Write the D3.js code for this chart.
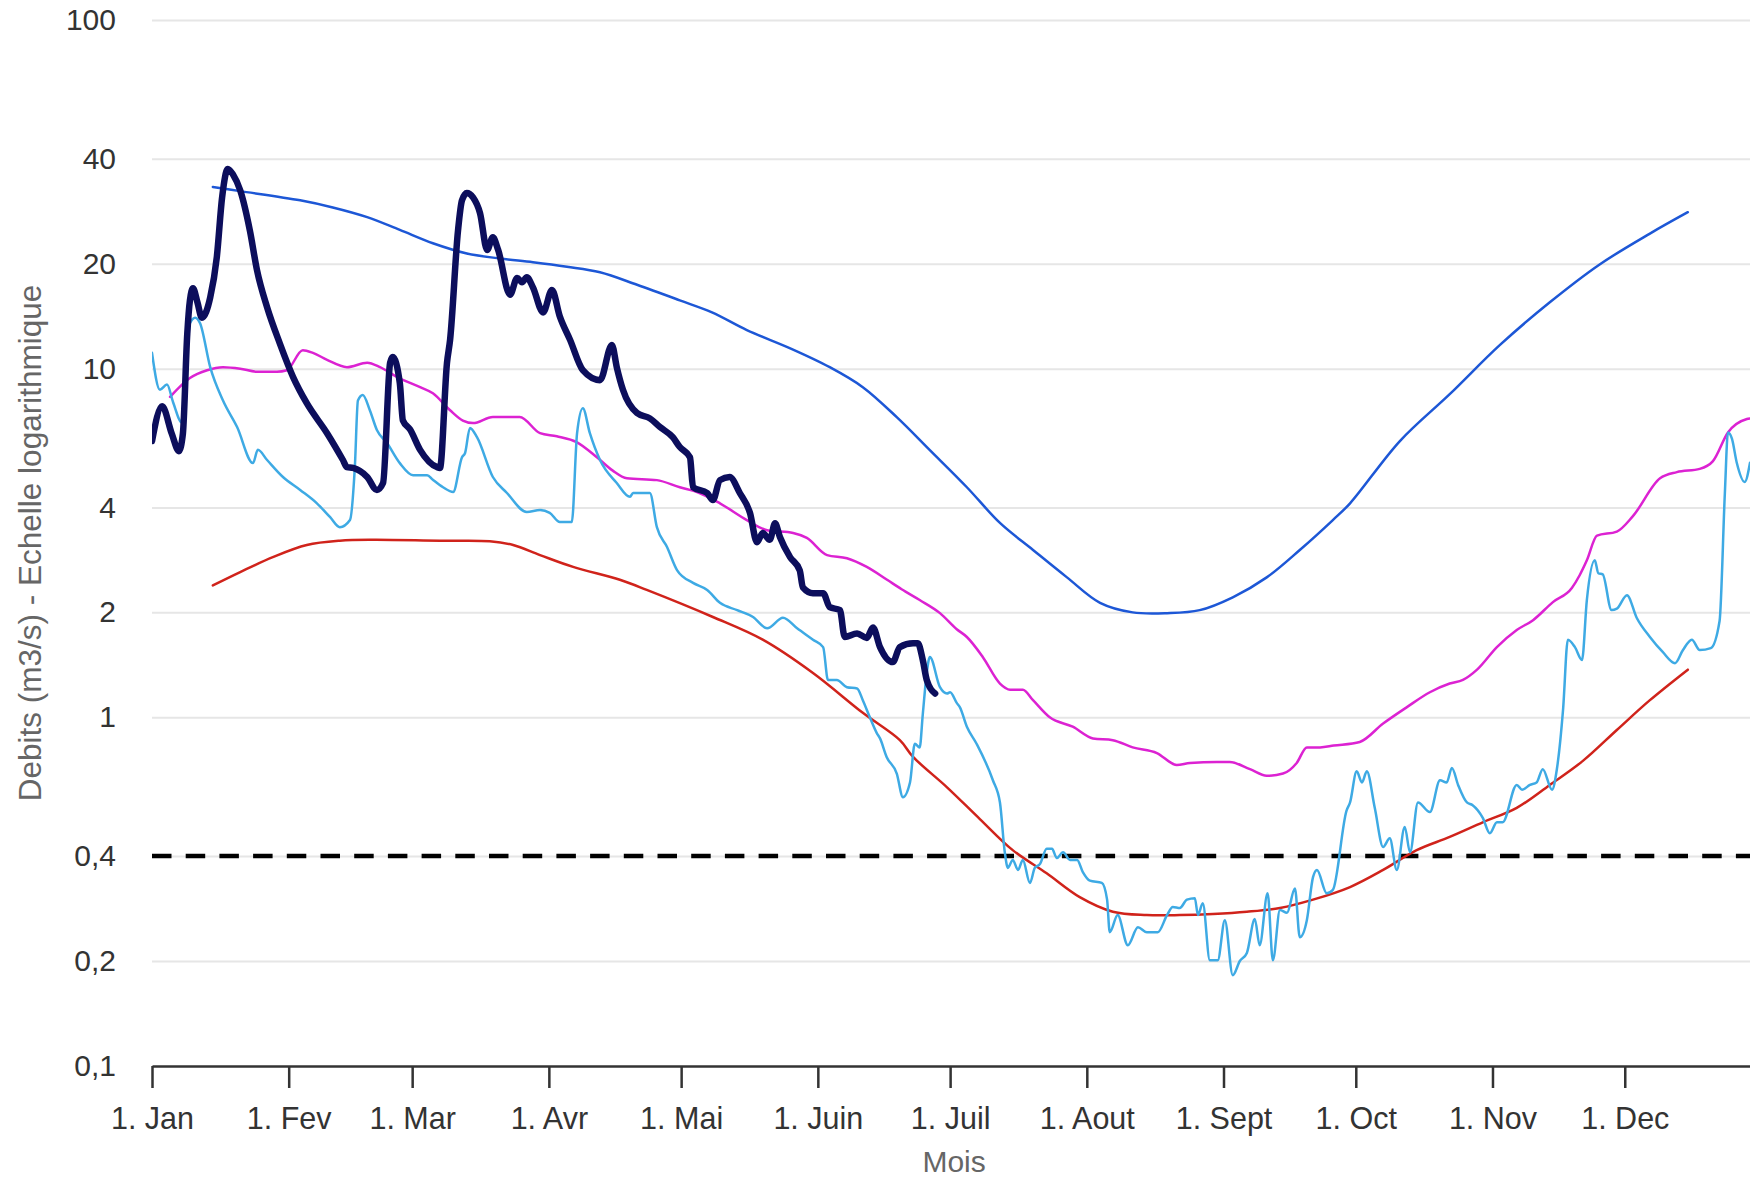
<!DOCTYPE html>
<html>
<head>
<meta charset="utf-8">
<script src="https://cdn.jsdelivr.net/npm/d3@7"></script>
<style>
  body { margin: 0; background: #fff; }
  text { font-family: "Liberation Sans", Arial, sans-serif; }
</style>
</head>
<body>
<svg id="chart"></svg>
<script>
// jour de l'annee (0 = 1. Jan) et debit en m3/s
var monthDays = [0, 31, 59, 90, 120, 151, 181, 212, 243, 273, 304, 334];
var monthLabels = ["1. Jan", "1. Fev", "1. Mar", "1. Avr", "1. Mai", "1. Juin",
                   "1. Juil", "1. Aout", "1. Sept", "1. Oct", "1. Nov", "1. Dec"];
var yTicks = [0.1, 0.2, 0.4, 1, 2, 4, 10, 20, 40, 100];
var seuil = 0.4;

var anneeCourante = [[0,6.2],[2.3,7.8],[4.5,6.5],[6.1,5.8],[7,6.5],[8,12.6],[8.6,15.7],[9.3,17.0],[10.3,15.5],[11.3,14.0],
  [13.2,16.0],[14.7,20.9],[15.9,31],[17.2,37.4],[18.4,36],[20,32.5],[22.2,24.9],[23.8,19.2],[26.1,15.0],[29,11.8],
  [32,9.46],[35.1,7.96],[39.7,6.53],[43.3,5.47],[44.2,5.22],[45.6,5.19],[48.8,4.89],[51,4.49],[52.4,4.7],[54,10.4],
  [54.6,10.8],[56.2,9.1],[56.9,7.1],[58.5,6.7],[60.8,5.85],[64.6,5.22],[65.3,5.19],[66.9,10.4],[67.6,12.1],[69.4,24.9],
  [70.3,30.4],[71.4,31.9],[72.8,31],[74.4,27.9],[76,21.9],[77.3,23.8],[78.5,21.9],[81.2,16.3],[82.8,18.2],[83.9,17.7],
  [85,18.3],[86.4,17.1],[88.7,14.5],[90.7,16.8],[92.5,14.1],[94.8,12.1],[97.7,9.9],[101.6,9.27],[104.3,11.7],[105.4,10.1],
  [106.8,8.7],[110,7.46],[112.9,7.2],[115.2,6.8],[118.1,6.36],[119.7,5.96],[122,5.57],[122.7,4.57],[125.9,4.4],[127.2,4.2],
  [128.8,4.79],[131,4.89],[133.3,4.4],[135.6,3.86],[137.2,3.18],[138.5,3.38],[140.1,3.23],[141.3,3.6],[142.4,3.29],[144.7,2.88],
  [146.9,2.64],[147.6,2.36],[149.9,2.27],[152.2,2.27],[153.7,2.07],[156,2.03],[157.1,1.70],[159.9,1.74],[162.1,1.69],[163.5,1.81],
  [165.1,1.59],[168,1.44],[169.6,1.59],[172.6,1.63],[173.7,1.63],[174.8,1.46],[175.7,1.28],[177.6,1.17]];

var anneeRef = [[0,11.1],[1.8,8.7],[3.4,9.0],[4.8,8.0],[6.8,7.0],[7.5,9.1],[8.6,13.5],[9.8,14.0],[10.9,13.5],[13.2,10.1],
  [16.1,8.1],[19.3,6.8],[22.9,5.36],[24,5.85],[26.1,5.47],[29.7,4.89],[33.6,4.49],[37.4,4.11],[40.4,3.75],[42.6,3.51],
  [44.9,3.68],[46,5.22],[46.7,8.1],[47.8,8.4],[49.4,7.6],[51,6.67],[53.3,6.12],[56.2,5.36],[59.2,4.95],[62.4,4.95],
  [63.7,4.8],[66,4.57],[68.3,4.43],[70.3,5.57],[71,5.73],[72.1,6.76],[73.7,6.36],[77.3,4.89],[80.5,4.4],[85,3.88],
  [88,3.93],[90.2,3.86],[92.5,3.63],[95.2,3.63],[96.4,6.53],[97.7,7.7],[99.3,6.53],[101.6,5.47],[105.4,4.7],[108.4,4.29],
  [109.1,4.4],[112.9,4.4],[114.5,3.51],[116.8,3.08],[119.1,2.64],[122.7,2.43],[125.9,2.32],[128.8,2.13],[132.7,2.03],[136.3,1.94],
  [139.5,1.80],[143.1,1.93],[146.3,1.80],[149.9,1.67],[152.2,1.59],[153.3,1.28],[155.3,1.28],[157.6,1.22],[159.9,1.21],[161.2,1.12],
  [162.8,1.0],[164.4,0.90],[165.1,0.87],[166.6,0.77],[168.9,0.69],[170.3,0.59],[171.9,0.65],[173,0.84],[174.1,0.82],[174.8,1.02],
  [175.7,1.34],[176.4,1.49],[178.7,1.22],[180.3,1.17],[181,1.18],[182.5,1.10],[183.2,1.07],[184.8,0.94],[187,0.84],[190.7,0.66],
  [192.3,0.57],[193.4,0.41],[194.1,0.37],[195.2,0.39],[196.4,0.365],[197.5,0.39],[199.1,0.335],[200.2,0.37],[201.4,0.38],[202.9,0.42],
  [204.1,0.42],[205.2,0.395],[206.6,0.41],[208.2,0.39],[209.8,0.39],[211.1,0.36],[212.7,0.34],[215.4,0.335],[216.6,0.30],[217.2,0.242],
  [219,0.271],[221.3,0.222],[223.6,0.25],[225.6,0.242],[228.1,0.242],[230.2,0.271],[231.5,0.286],[233.1,0.284],[234.7,0.30],[236.5,0.303],
  [237.2,0.271],[238.3,0.293],[239.9,0.201],[241.7,0.201],[243.3,0.262],[245.1,0.182],[246.7,0.20],[248.3,0.211],[250.1,0.264],[251.2,0.222],
  [253,0.313],[254.2,0.201],[255.8,0.28],[257.4,0.275],[259.2,0.323],[260.3,0.234],[261.9,0.262],[263.3,0.348],[264.2,0.365],[266.4,0.313],
  [267.8,0.32],[270.9,0.54],[271.7,0.57],[273.2,0.70],[274.4,0.65],[275.5,0.70],[277.3,0.55],[279.2,0.425],[280.7,0.45],[282.3,0.365],
  [284.1,0.485],[285.3,0.41],[287.1,0.57],[289.8,0.535],[292.1,0.66],[293.6,0.65],[294.8,0.716],[296.2,0.64],[298.2,0.57],[299.5,0.56],
  [301.8,0.515],[303.4,0.465],[305,0.50],[306.3,0.50],[309.5,0.64],[310.7,0.62],[312.5,0.64],[314,0.65],[315.4,0.71],[317.5,0.62],
  [318.6,0.71],[320,1.05],[321.1,1.67],[322.7,1.59],[324.3,1.46],[325.4,2.17],[327.2,2.82],[328,2.59],[329,2.57],[331,2.03],
  [332.2,2.05],[334.5,2.24],[336.7,1.93],[339.7,1.70],[342.6,1.54],[345.4,1.43],[347.2,1.56],[349.2,1.67],[351,1.56],[353.5,1.58],
  [355.5,1.89],[356.7,4.4],[357.4,6.56],[358.3,6.3],[359.4,5.37],[361.2,4.73],[362.4,5.37]];

var mediane = [[4.1,8.3],[8.6,9.4],[12.5,9.9],[16.1,10.1],[20,10.0],[23.8,9.8],[28.3,9.8],[30.6,9.9],[34.2,11.3],[36.5,11.1],
  [39.7,10.6],[44.2,10.1],[48.8,10.4],[51.7,10.1],[55.6,9.46],[60.8,8.85],[63.7,8.5],[67.6,7.6],[70.5,7.1],[72.8,6.98],
  [77.3,7.27],[83.4,7.27],[88,6.53],[91.8,6.4],[96.4,6.15],[100.9,5.57],[104.5,5.1],[107.7,4.85],[114.5,4.79],[119.7,4.57],
  [123.6,4.43],[128.8,4.11],[134.9,3.68],[139.5,3.44],[145.4,3.38],[148.5,3.27],[153.1,2.92],[157.6,2.86],[162.1,2.70],[166.7,2.48],
  [170,2.33],[174.1,2.17],[178.7,1.99],[182.5,1.79],[184.8,1.70],[188.4,1.49],[192.3,1.25],[194.6,1.20],[197.5,1.20],[199.8,1.12],
  [203.6,1.0],[208.8,0.94],[213.4,0.87],[217.9,0.86],[222.4,0.82],[227.9,0.79],[232.4,0.73],[235.4,0.74],[241.5,0.745],[244.4,0.745],
  [249,0.71],[252.8,0.68],[256.5,0.69],[259.6,0.74],[261.9,0.82],[264.9,0.82],[268,0.83],[273.9,0.85],[279.2,0.96],[284.6,1.07],
  [289.8,1.18],[294.3,1.25],[297.3,1.28],[300.5,1.37],[305,1.59],[309.5,1.78],[313.2,1.90],[317.7,2.14],[322,2.35],[323.8,2.56],
  [325.4,2.82],[327.7,3.32],[332.2,3.41],[335.8,3.77],[342,4.85],[345.8,5.05],[351,5.16],[354,5.43],[357.4,6.56],[361.7,7.17],[362.4,7.2]];

var quinqHumide = [[13.8,33.2],[20,32.3],[33.6,30.4],[41,29.0],[48.8,27.2],[56.2,25],[63.7,22.9],[71.4,21.4],[78.9,20.7],[86.4,20.2],
  [94.1,19.6],[101.6,18.9],[110,17.4],[119.7,15.7],[127,14.5],[134.9,12.9],[145,11.4],[153.7,10.1],[161.2,8.85],[168.9,7.26],
  [176.4,5.84],[184.8,4.57],[192.3,3.61],[199.8,3.02],[207.5,2.52],[215,2.13],[222.4,2.0],[230.2,1.99],[237.6,2.03],[245.1,2.21],
  [252.8,2.52],[260.3,3.02],[267.8,3.68],[271.7,4.11],[283,6.2],[294.3,8.45],[305.7,11.7],[317,15.5],[328.3,19.9],[339.7,24.4],[348.3,28.1]];

var quinqSec = [[13.8,2.39],[20,2.61],[27.4,2.88],[35.1,3.12],[42.6,3.21],[50.1,3.23],[65.3,3.21],[76.6,3.2],[81.9,3.12],[88,2.92],
  [95.5,2.70],[106.1,2.48],[112.2,2.32],[127.2,1.94],[138.5,1.67],[149.9,1.34],[161.2,1.03],[169.6,0.86],[172.6,0.77],[180.3,0.63],
  [187.8,0.51],[195.2,0.416],[202.9,0.357],[210.4,0.305],[217.9,0.277],[225.6,0.271],[233.1,0.271],[240.6,0.273],[248.3,0.277],[255.8,0.284],
  [263.3,0.30],[271.7,0.326],[279.2,0.365],[286.8,0.416],[294.3,0.454],[301.8,0.50],[309.5,0.55],[317,0.64],[324.5,0.75],[332.2,0.92],
  [339.7,1.12],[348.3,1.37]];

var W = 1750, H = 1181;
var margin = {top: 20, right: 0, bottom: 115, left: 152};
var width = W - margin.left - margin.right,
    height = H - margin.top - margin.bottom;

var svg = d3.select("#chart").attr("width", W).attr("height", H);
svg.append("rect").attr("width", W).attr("height", H).attr("fill", "#fff");

var g = svg.append("g").attr("transform", "translate(" + margin.left + "," + margin.top + ")");

var x = d3.scaleLinear().domain([0, 362.4]).range([0, width]);
var y = d3.scaleLog().domain([0.1, 100]).range([height, 0]);

// grille + labels y
var yAxis = d3.axisLeft(y)
    .tickValues(yTicks)
    .tickFormat(function(d) { return String(d).replace(".", ","); })
    .tickSize(-width)
    .tickPadding(36);

var gy = g.append("g").attr("class", "y axis").call(yAxis);
gy.select(".domain").remove();
gy.selectAll(".tick line")
    .attr("stroke", "#e6e6e6")
    .attr("stroke-width", 2)
    .style("display", function(d) { return d === 0.1 ? "none" : null; });
gy.selectAll(".tick text")
    .attr("fill", "#333")
    .style("font-size", "30px");

g.append("defs").append("clipPath").attr("id", "clip")
    .append("rect").attr("width", width).attr("height", height + 10).attr("y", -10);

var plot = g.append("g").attr("clip-path", "url(#clip)");

// seuil
plot.append("line")
    .attr("x1", 0).attr("x2", width)
    .attr("y1", y(seuil)).attr("y2", y(seuil))
    .attr("stroke", "#000")
    .attr("stroke-width", 4.5)
    .attr("stroke-dasharray", "19.5,14.2");

var lineMono = d3.line()
    .x(function(d) { return x(d[0]); })
    .y(function(d) { return y(d[1]); })
    .curve(d3.curveMonotoneX);

var lineSmooth = d3.line()
    .x(function(d) { return x(d[0]); })
    .y(function(d) { return y(d[1]); })
    .curve(d3.curveCatmullRom.alpha(0.5));

var series = [
  {data: quinqSec, color: "#d0231b", w: 2.5, line: lineSmooth},
  {data: quinqHumide, color: "#1d57d6", w: 2.5, line: lineSmooth},
  {data: mediane, color: "#dc22d2", w: 2.5, line: lineMono},
  {data: anneeRef, color: "#3eaae4", w: 2.5, line: lineMono},
  {data: anneeCourante, color: "#0c0e5c", w: 6.5, line: lineMono}
];

series.forEach(function(s) {
  plot.append("path")
      .datum(s.data)
      .attr("fill", "none")
      .attr("stroke", s.color)
      .attr("stroke-width", s.w)
      .attr("stroke-linejoin", "round")
      .attr("stroke-linecap", "round")
      .attr("d", s.line);
});

// axe x
var xAxis = d3.axisBottom(x)
    .tickValues(monthDays)
    .tickFormat(function(d, i) { return monthLabels[i]; })
    .tickSize(22)
    .tickSizeOuter(0)
    .tickPadding(19);

var gx = g.append("g")
    .attr("class", "x axis")
    .attr("transform", "translate(0," + height + ")")
    .call(xAxis);
gx.select(".domain").attr("stroke", "#333").attr("stroke-width", 2.5);
gx.selectAll(".tick line").attr("stroke", "#333").attr("stroke-width", 2.5);
gx.selectAll(".tick text").attr("fill", "#333").style("font-size", "30.5px");

svg.append("text")
    .attr("x", margin.left + x(monthDays[6]) + 4)
    .attr("y", 1172)
    .attr("text-anchor", "middle")
    .attr("fill", "#666")
    .style("font-size", "30px")
    .text("Mois");

svg.append("text")
    .attr("transform", "translate(41," + (margin.top + height / 2) + ") rotate(-90)")
    .attr("text-anchor", "middle")
    .attr("fill", "#666")
    .style("font-size", "31.5px")
    .text("Debits (m3/s) - Echelle logarithmique");
</script>
</body>
</html>
